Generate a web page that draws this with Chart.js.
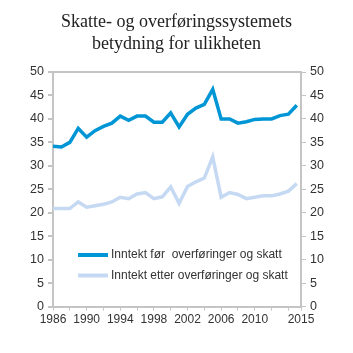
<!DOCTYPE html>
<html>
<head>
<meta charset="utf-8">
<script src="https://cdn.jsdelivr.net/npm/chart.js@4"></script>
<style>
  html, body { margin: 0; padding: 0; background: #fff; }
  #wrap { width: 353px; height: 353px; }
</style>
</head>
<body>
<div id="wrap"><canvas id="chart"></canvas></div>
<script>
const years = [1986, 1987, 1988, 1989, 1990, 1991, 1992, 1993, 1994, 1995,
  1996, 1997, 1998, 1999, 2000, 2001, 2002, 2003, 2004, 2005,
  2006, 2007, 2008, 2009, 2010, 2011, 2012, 2013, 2014, 2015];
const beforeTax = [34.2, 34.0, 35.0, 38.0, 36.1, 37.5, 38.4, 39.1, 40.6, 39.7,
  40.6, 40.6, 39.3, 39.3, 41.3, 38.3, 41.0, 42.3, 43.1, 46.3,
  40.0, 40.0, 39.1, 39.4, 39.9, 40.0, 40.0, 40.7, 41.0, 42.9];
const afterTax = [20.9, 20.9, 20.9, 22.3, 21.2, 21.5, 21.8, 22.3, 23.3, 23.0,
  24.0, 24.3, 23.0, 23.4, 25.5, 22.0, 25.6, 26.6, 27.4, 31.9,
  23.3, 24.3, 23.9, 23.0, 23.3, 23.6, 23.6, 24.0, 24.6, 26.2];
const seriesLabels = ['Inntekt før  overføringer og skatt', 'Inntekt etter overføringer og skatt'];
const xLabelYears = [1986, 1990, 1994, 1998, 2002, 2006, 2010];
const xEndLabel = '2015';
const titleLines = ['Skatte- og overføringssystemets', 'betydning for ulikheten'];

const X_MIN = 1986, X_MAX = 2015.5;
const axisGray = '#c4c4c4';
const textColor = '#333';
const sans = '"Liberation Sans", Arial, sans-serif';

// legend drawn inside the plot area
const innerLegend = {
  id: 'innerLegend',
  afterDraw(chart) {
    const { ctx, chartArea } = chart;
    ctx.save();
    ctx.font = '12px ' + sans;
    ctx.textBaseline = 'middle';
    chart.data.datasets.forEach((ds, i) => {
      const y = chartArea.top + 183 + i * 20.5;
      ctx.strokeStyle = ds.borderColor;
      ctx.lineWidth = 4;
      ctx.beginPath();
      ctx.moveTo(chartArea.left + 25, y);
      ctx.lineTo(chartArea.left + 55, y);
      ctx.stroke();
      ctx.fillStyle = textColor;
      ctx.fillText(ds.label, chartArea.left + 58, y);
    });
    ctx.restore();
  }
};

function xTicks(axis) {
  const t = [];
  for (let y = 1986; y <= 2014; y += 2) t.push({ value: y });
  t.push({ value: X_MAX });
  axis.ticks = t;
}

new Chart(document.getElementById('chart'), {
  type: 'line',
  data: {
    datasets: [
      {
        label: seriesLabels[0],
        data: years.map((y, i) => ({ x: y, y: beforeTax[i] })),
        borderColor: '#0096d6',
        borderWidth: 3.5,
        pointRadius: 0,
        fill: false
      },
      {
        label: seriesLabels[1],
        data: years.map((y, i) => ({ x: y, y: afterTax[i] })),
        borderColor: '#c6d9f3',
        borderWidth: 3.5,
        pointRadius: 0,
        fill: false
      }
    ]
  },
  options: {
    responsive: true,
    maintainAspectRatio: false,
    animation: false,
    layout: { padding: { top: 11, bottom: 24 } },
    plugins: {
      legend: { display: false },
      tooltip: { enabled: false },
      title: {
        display: true,
        text: titleLines,
        color: '#222',
        font: { family: '"Liberation Serif", "Times New Roman", serif', size: 18, weight: 'normal', lineHeight: 1.25 },
        padding: { top: 0, bottom: 16 }
      }
    },
    scales: {
      x: {
        type: 'linear',
        min: X_MIN,
        max: X_MAX,
        afterBuildTicks: xTicks,
        border: { color: axisGray, width: 2 },
        grid: { drawOnChartArea: false, color: axisGray, tickLength: 4 },
        ticks: {
          autoSkip: false,
          maxRotation: 0,
          color: textColor,
          padding: 2,
          font: { family: sans, size: 12 },
          callback: v => v === X_MAX ? xEndLabel : (xLabelYears.includes(v) ? String(v) : '')
        }
      },
      xTop: {
        type: 'linear',
        position: 'top',
        min: X_MIN,
        max: X_MAX,
        border: { color: axisGray, width: 2 },
        grid: { display: false, drawTicks: false },
        ticks: { display: false }
      },
      y: {
        position: 'left',
        min: 0,
        max: 50,
        afterFit: s => { s.width = 53; },
        border: { color: axisGray, width: 2 },
        grid: { drawOnChartArea: false, color: axisGray, lineWidth: 2, tickLength: 5 },
        ticks: {
          stepSize: 5,
          color: textColor,
          padding: 4,
          font: { family: sans, size: 12.5 }
        }
      },
      y2: {
        position: 'right',
        min: 0,
        max: 50,
        afterFit: s => { s.width = 52; },
        border: { color: axisGray, width: 2 },
        grid: { drawOnChartArea: false, color: axisGray, tickLength: 5 },
        ticks: {
          stepSize: 5,
          color: textColor,
          padding: 4,
          font: { family: sans, size: 12.5 }
        }
      }
    }
  },
  plugins: [innerLegend]
});
</script>
</body>
</html>
